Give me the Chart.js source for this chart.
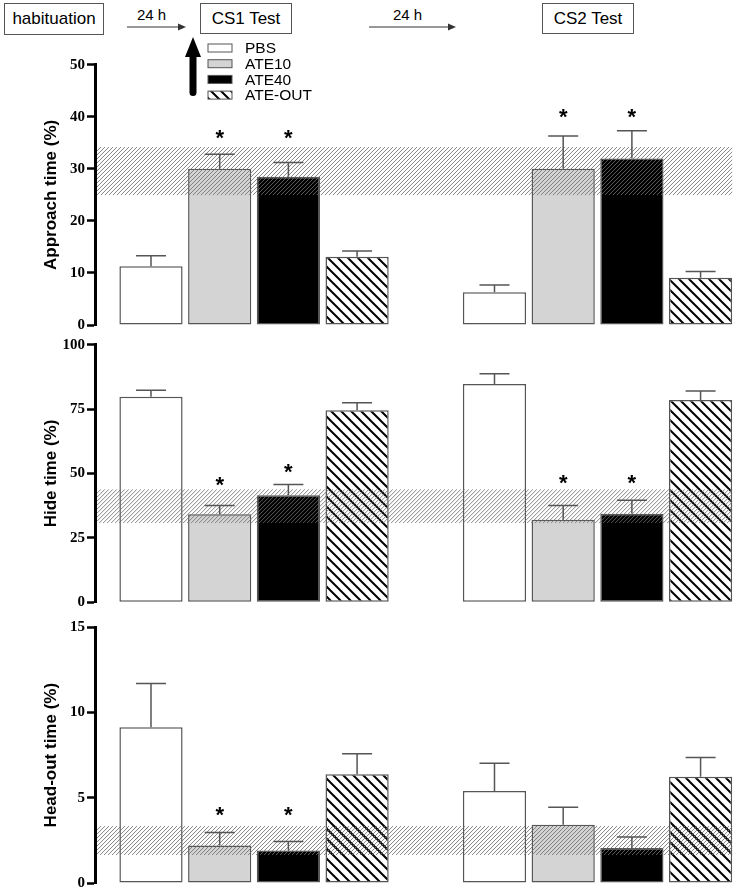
<!DOCTYPE html>
<html>
<head>
<meta charset="utf-8">
<script src="https://cdn.jsdelivr.net/npm/chart.js@4.4.0/dist/chart.umd.min.js"></script>
<style>
  body { margin: 0; background: #fff; width: 737px; height: 894px; position: relative; overflow: hidden; font-family: "Liberation Sans", Arial, sans-serif; }
  .box { position: absolute; border: 1px solid #555; font-size: 17px; display: flex; align-items: center; justify-content: center; box-sizing: border-box; }
  .lbl { position: absolute; font-size: 15px; }
  canvas { position: absolute; left: 0; }
  svg { position: absolute; left: 0; top: 0; }
</style>
</head>
<body>
<div class="box" style="left:4px;top:3px;width:100px;height:32px">habituation</div>
<div class="lbl" style="left:137px;top:6px">24 h</div>
<div class="box" style="left:200px;top:3px;width:92px;height:31px">CS1 Test</div>
<div class="lbl" style="left:393px;top:6px">24 h</div>
<div class="box" style="left:542px;top:3px;width:92px;height:31px">CS2 Test</div>
<svg width="737" height="100">
  <line x1="127" y1="27" x2="180" y2="27" stroke="#333" stroke-width="1.2"/>
  <polygon points="186,27 178,23.5 178,30.5" fill="#333"/>
  <line x1="369" y1="27" x2="450" y2="27" stroke="#333" stroke-width="1.2"/>
  <polygon points="456,27 448,23.5 448,30.5" fill="#333"/>
  <polygon points="193,37 185,57 201,57" fill="#000"/>
  <rect x="189.5" y="52" width="7" height="44" rx="3.5" fill="#000"/>
</svg>
<canvas id="approachChart" width="737" height="305" style="top:40px"></canvas>
<canvas id="hideChart" width="737" height="290" style="top:330px"></canvas>
<canvas id="headOutChart" width="737" height="282" style="top:612px"></canvas>
<script>
const treatments = ["PBS", "ATE10", "ATE40", "ATE-OUT"]
const sessions = ["CS1 Test", "CS2 Test"]

// bar order: CS1 PBS, ATE10, ATE40, ATE-OUT, then CS2 the same
const approachMean = [11.3, 30.0, 28.5, 13.1, 6.3, 30.0, 32.0, 9.1]
const approachSem = [2.0, 2.8, 2.7, 1.1, 1.4, 6.3, 5.3, 1.2]
const approachStar = [null, 36.9, 36.9, null, null, 41.0, 41.0, null]
const approachBand = [24.9, 34.2]
const approachTicks = [0, 10, 20, 30, 40, 50]

const hideMean = [79.8, 34.2, 41.6, 74.6, 84.7, 32.0, 34.4, 78.5]
const hideSem = [2.5, 3.4, 4.1, 2.9, 4.0, 5.6, 5.2, 3.5]
const hideStar = [null, 47.8, 52.6, null, null, 48.3, 48.3, null]
const hideBand = [30.7, 43.9]
const hideTicks = [0, 25, 50, 75, 100]

const headOutMean = [9.14, 2.2, 1.9, 6.38, 5.39, 3.42, 2.05, 6.24]
const headOutSem = [2.56, 0.76, 0.53, 1.2, 1.64, 1.03, 0.65, 1.12]
const headOutStar = [null, 4.3, 4.3, null, null, null, null, null]
const headOutBand = [1.64, 3.34]
const headOutTicks = [0, 5, 10, 15]

Chart.defaults.font.family = "Liberation Sans"
Chart.defaults.color = "#000"

function hatchPattern() {
  const c = document.createElement("canvas")
  c.width = 10
  c.height = 10
  const g = c.getContext("2d")
  g.fillStyle = "#fff"
  g.fillRect(0, 0, 10, 10)
  g.strokeStyle = "#000"
  g.lineWidth = 2
  g.beginPath()
  g.moveTo(-2, -2); g.lineTo(12, 12)
  g.moveTo(-2, 8); g.lineTo(2, 12)
  g.moveTo(8, -2); g.lineTo(12, 2)
  g.stroke()
  return g.createPattern(c, "repeat")
}

const fills = ["#ffffff", "#d4d4d4", "#000000", hatchPattern()]

// slot position of each bar: groups of four with one empty slot between
function slot(g, t) { return g * 5 + t }
const slots = []
sessions.forEach((s, g) => treatments.forEach((n, t) => slots.push(slot(g, t))))

const extras = {
  id: "extras",
  afterDatasetsDraw(chart, args, opts) {
    const ctx = chart.ctx
    const y = chart.scales.y
    const area = chart.chartArea
    const lastMeta = chart.getDatasetMeta(chart.data.datasets.length - 1)
    const lastBar = lastMeta.data[lastMeta.data.length - 1]

    // hatched reference band
    const x0 = area.left + 2
    const x1 = lastBar.x + lastBar.width / 2
    const yHi = y.getPixelForValue(opts.band[1])
    const yLo = y.getPixelForValue(opts.band[0])
    const h = yLo - yHi
    ctx.save()
    ctx.beginPath()
    ctx.rect(x0, yHi, x1 - x0, h)
    ctx.clip()
    ctx.strokeStyle = "rgba(110,110,110,0.85)"
    ctx.lineWidth = 1
    ctx.beginPath()
    for (let s = x0 - h; s < x1; s += 4) {
      ctx.moveTo(s, yLo)
      ctx.lineTo(s + h, yHi)
    }
    ctx.stroke()
    ctx.restore()

    // error bars (upper only) and asterisks
    ctx.save()
    ctx.strokeStyle = "#555"
    ctx.lineWidth = 1.5
    ctx.fillStyle = "#000"
    ctx.font = "bold 22px Liberation Sans"
    ctx.textAlign = "center"
    chart.data.datasets.forEach((ds, d) => {
      const meta = chart.getDatasetMeta(d)
      meta.data.forEach((bar, i) => {
        const p = ds.data[i]
        const yTop = y.getPixelForValue(p.y + p.sem)
        ctx.beginPath()
        ctx.moveTo(bar.x, bar.y)
        ctx.lineTo(bar.x, yTop)
        ctx.moveTo(bar.x - 15, yTop)
        ctx.lineTo(bar.x + 15, yTop)
        ctx.stroke()
        const star = opts.stars[i * 4 + d]
        if (star != null) {
          ctx.fillText("*", bar.x, y.getPixelForValue(star) + 12.5)
        }
      })
    })
    ctx.restore()

    // legend
    if (opts.legend) {
      ctx.save()
      ctx.font = "15.5px Liberation Sans"
      ctx.textBaseline = "middle"
      chart.data.datasets.forEach((ds, d) => {
        const cy = 8 + d * 15.7
        ctx.fillStyle = ds.backgroundColor
        ctx.fillRect(208, cy - 4, 24, 8)
        ctx.strokeStyle = "#555"
        ctx.lineWidth = 1
        ctx.strokeRect(208, cy - 4, 24, 8)
        ctx.fillStyle = "#000"
        ctx.fillText(ds.label, 245, cy + 1)
      })
      ctx.restore()
    }
  },
}

function makePanel(canvasId, title, means, sems, stars, band, ticks, padTop, padBottom, legend) {
  const ctx = document.getElementById(canvasId).getContext("2d")
  new Chart(ctx, {
    type: "bar",
    data: {
      datasets: treatments.map((name, t) => ({
        label: name,
        data: sessions.map((s, g) => ({ x: slot(g, t), y: means[g * 4 + t], sem: sems[g * 4 + t] })),
        backgroundColor: fills[t],
        borderColor: "#555",
        borderWidth: 1.5,
        borderSkipped: false,
        grouped: false,
        categoryPercentage: 1,
        barPercentage: 0.92,
      })),
    },
    options: {
      responsive: false,
      animation: false,
      layout: { padding: { top: padTop, bottom: padBottom, left: 0, right: 0 } },
      plugins: {
        legend: { display: false },
        tooltip: { enabled: false },
        extras: { band: band, stars: stars, legend: legend },
      },
      scales: {
        x: {
          type: "linear",
          display: false,
          offset: false,
          min: -0.815,
          max: 8.53,
          afterBuildTicks: (scale) => {
            scale.ticks = slots.map((v) => ({ value: v }))
          },
        },
        y: {
          min: ticks[0],
          max: ticks[ticks.length - 1],
          afterFit: (scale) => {
            scale.width = 95
          },
          ticks: {
            stepSize: ticks[1] - ticks[0],
            padding: 2,
            color: "#000",
            font: { family: "Liberation Serif", weight: "bold", size: 15 },
          },
          grid: {
            drawOnChartArea: false,
            drawTicks: true,
            tickLength: 8,
            tickWidth: 2.5,
            tickColor: "#000",
          },
          border: { display: true, color: "#000", width: 3 },
          title: {
            display: true,
            text: title,
            color: "#000",
            font: { family: "Liberation Sans", weight: "bold", size: 17 },
            padding: { top: 41, bottom: 0 },
          },
        },
      },
    },
    plugins: [extras],
  })
}

makePanel("approachChart", "Approach time (%)", approachMean, approachSem, approachStar, approachBand, approachTicks, 24.7, 20, true)
makePanel("hideChart", "Hide time (%)", hideMean, hideSem, hideStar, hideBand, hideTicks, 14.7, 17.7, false)
makePanel("headOutChart", "Head-out time (%)", headOutMean, headOutSem, headOutStar, headOutBand, headOutTicks, 15.3, 8, false)
</script>
</body>
</html>
